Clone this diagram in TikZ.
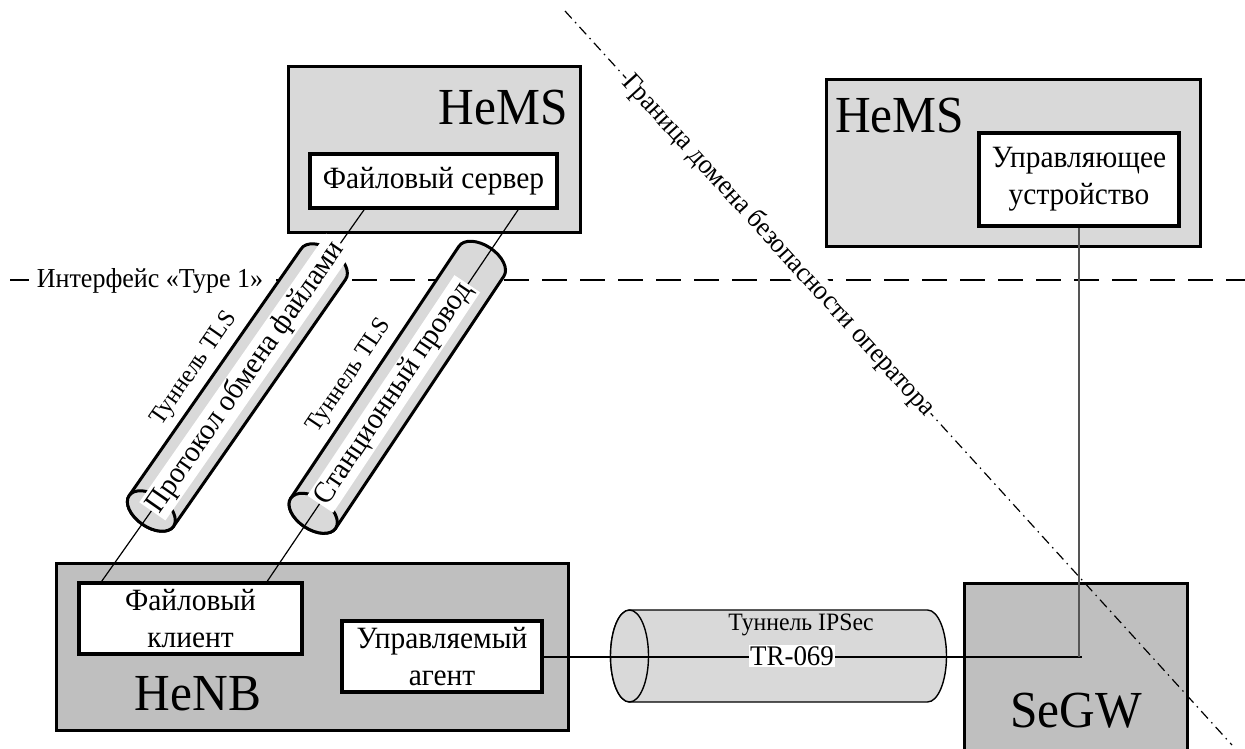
\documentclass[tikz,border=0pt]{standalone}
\usepackage{fontspec}
\setmainfont{Liberation Serif}
\newfontfamily\tnr[FakeStretch=0.95]{Liberation Serif}
\usetikzlibrary{calc}
\definecolor{gl}{HTML}{D9D9D9}
\definecolor{gd}{HTML}{BFBFBF}
\definecolor{vline}{HTML}{555555}
\tikzset{
  outerbox/.style={draw, line width=3pt, fill=gl, inner sep=0pt},
  darkbox/.style={outerbox, fill=gd},
  inbox/.style={draw, line width=3.5pt, fill=white, inner sep=0pt, align=center, font=\tnr\fontsize{31}{37}\selectfont},
  bigtitle/.style={font=\tnr\fontsize{52}{54}\selectfont, inner sep=0pt},
  smalllabel/.style={font=\tnr\fontsize{25}{27}\selectfont, inner sep=0pt},
  tubelabel/.style={fill=white, inner sep=2pt, font=\tnr\fontsize{30}{32}\selectfont},
  link/.style={line width=1.2pt},
  tlstube/.style={line width=3pt, fill=gl, draw=black},
  ipsectube/.style={line width=1.4pt, fill=gl, draw=black},
}
\begin{document}
\begin{tikzpicture}[x=1pt,y=-1pt]
\useasboundingbox (0,0) rectangle (1245,749);

% outer boxes
\node[outerbox, minimum width=292pt, minimum height=165pt] (hemsL) at (434,149.5) {};
\node[outerbox, minimum width=374pt, minimum height=166pt] (hemsR) at (1013,163) {};
\node[darkbox, minimum width=512pt, minimum height=167pt] (henb) at (312,646.5) {};
\node[darkbox, minimum width=223pt, minimum height=187pt] (segw) at (1075.5,676.5) {};

% interface line
\coordinate (if1) at (10,280);
\coordinate (if2) at (1245,280);
\draw[line width=2.5pt, dash pattern=on 25pt off 13pt] (if1) -- (if2);
\node[fill=white, inner xsep=8pt, inner ysep=3pt, anchor=base, font=\tnr\fontsize{27.4}{30}\selectfont] (iface) at (150,287) {Интерфейс «Type 1»};

% operator security domain boundary
\coordinate (b1) at (565,11);
\coordinate (b2) at (1232,745);
\draw[line width=1.2pt, dash pattern=on 10pt off 5pt on 1.5pt off 5pt] (b1) -- node[pos=0.32, sloped, fill=white, inner sep=1pt, font=\tnr\fontsize{27.4}{30}\selectfont] (btext) {Граница домена безопасности оператора} (b2);

% inner boxes
\node[inbox, minimum width=247pt, minimum height=54pt] (srv) at (433.5,181) {Файловый сервер};
\node[inbox, minimum width=200pt, minimum height=93pt] (ctl) at (1079,179.5) {Управляющее\\устройство};
\node[inbox, minimum width=223pt, minimum height=71pt] (cli) at (190.5,618.5) {Файловый\\клиент};
\node[inbox, minimum width=200pt, minimum height=71pt] (agt) at (442,656.5) {Управляемый\\агент};

% titles
\node[bigtitle, anchor=base east] (tHemsL) at (568,125) {HeMS};
\node[bigtitle, anchor=base west] (tHemsR) at (835,132) {HeMS};
\node[bigtitle, anchor=base] (tHenb) at (198,710) {HeNB};
\node[bigtitle, anchor=base] (tSegw) at (1076,727) {SeGW};

% connector end points
\coordinate (s1) at ($(srv.south west)!0.223!(srv.south east)$);
\coordinate (c1) at ($(cli.north west)!0.108!(cli.north east)$);
\coordinate (s2) at ($(srv.south west)!0.838!(srv.south east)$);
\coordinate (c2) at ($(cli.north west)!0.839!(cli.north east)$);
\coordinate (tc1) at ($(c1)!86pt!(s1)$);
\coordinate (tc2) at ($(c2)!82pt!(s2)$);

% TLS tube 1
\begin{scope}[shift={(tc1)}, rotate=55.13]
  \filldraw[tlstube] (0pt,27pt) -- (301pt,27pt) arc[start angle=90, end angle=-90, x radius=16pt, y radius=27pt] -- (0pt,-27pt) arc[start angle=270, end angle=90, x radius=16pt, y radius=27pt] -- cycle;
  \filldraw[tlstube] (0pt,0pt) ellipse[x radius=16pt, y radius=27pt];
\end{scope}
% TLS tube 2
\begin{scope}[shift={(tc2)}, rotate=56.28]
  \filldraw[tlstube] (0pt,27pt) -- (303pt,27pt) arc[start angle=90, end angle=-90, x radius=16pt, y radius=27pt] -- (0pt,-27pt) arc[start angle=270, end angle=90, x radius=16pt, y radius=27pt] -- cycle;
  \filldraw[tlstube] (0pt,0pt) ellipse[x radius=16pt, y radius=27pt];
\end{scope}
% IPSec tube
\begin{scope}[shift={(629.5,656)}]
  \filldraw[ipsectube] (0pt,46pt) -- (298pt,46pt) arc[start angle=90, end angle=-90, x radius=19pt, y radius=46pt] -- (0pt,-46pt) arc[start angle=270, end angle=90, x radius=19pt, y radius=46pt] -- cycle;
  \filldraw[ipsectube] (0pt,0pt) ellipse[x radius=19pt, y radius=46pt];
\end{scope}

% connectors
\draw[link] (s1) -- (c1);
\draw[link] (s2) -- (c2);
\draw[line width=2pt] (agt.east) -- ($(ctl.south |- agt.east)+(3,0)$);
\draw[line width=1.2pt, draw=vline] (ctl.south) -- (ctl.south |- agt.east);

% tube labels
\coordinate (m1) at ($(c1)!227pt!(s1)$);
\coordinate (m2) at ($(c2)!216pt!(s2)$);
\node[tubelabel, rotate=55.13] (proto) at ($(c1)!250pt!(s1)$) {Протокол обмена файлами};
\node[tubelabel, rotate=56.28] (wire) at ($(c2)!226pt!(s2)$) {Станционный провод};
\node[smalllabel, rotate=55.13] (tls1) at ($(m1)!47pt!90:(s1)$) {Туннель TLS};
\node[smalllabel, rotate=56.28] (tls2) at ($(m2)!47pt!90:(s2)$) {Туннель TLS};
\node[smalllabel] (ipsec) at (801,625) {Туннель IPSec};
\node[fill=white, inner sep=1.5pt, font=\tnr\fontsize{28.4}{31}\selectfont] (tr) at (792,656) {TR-069};
\end{tikzpicture}
\end{document}
